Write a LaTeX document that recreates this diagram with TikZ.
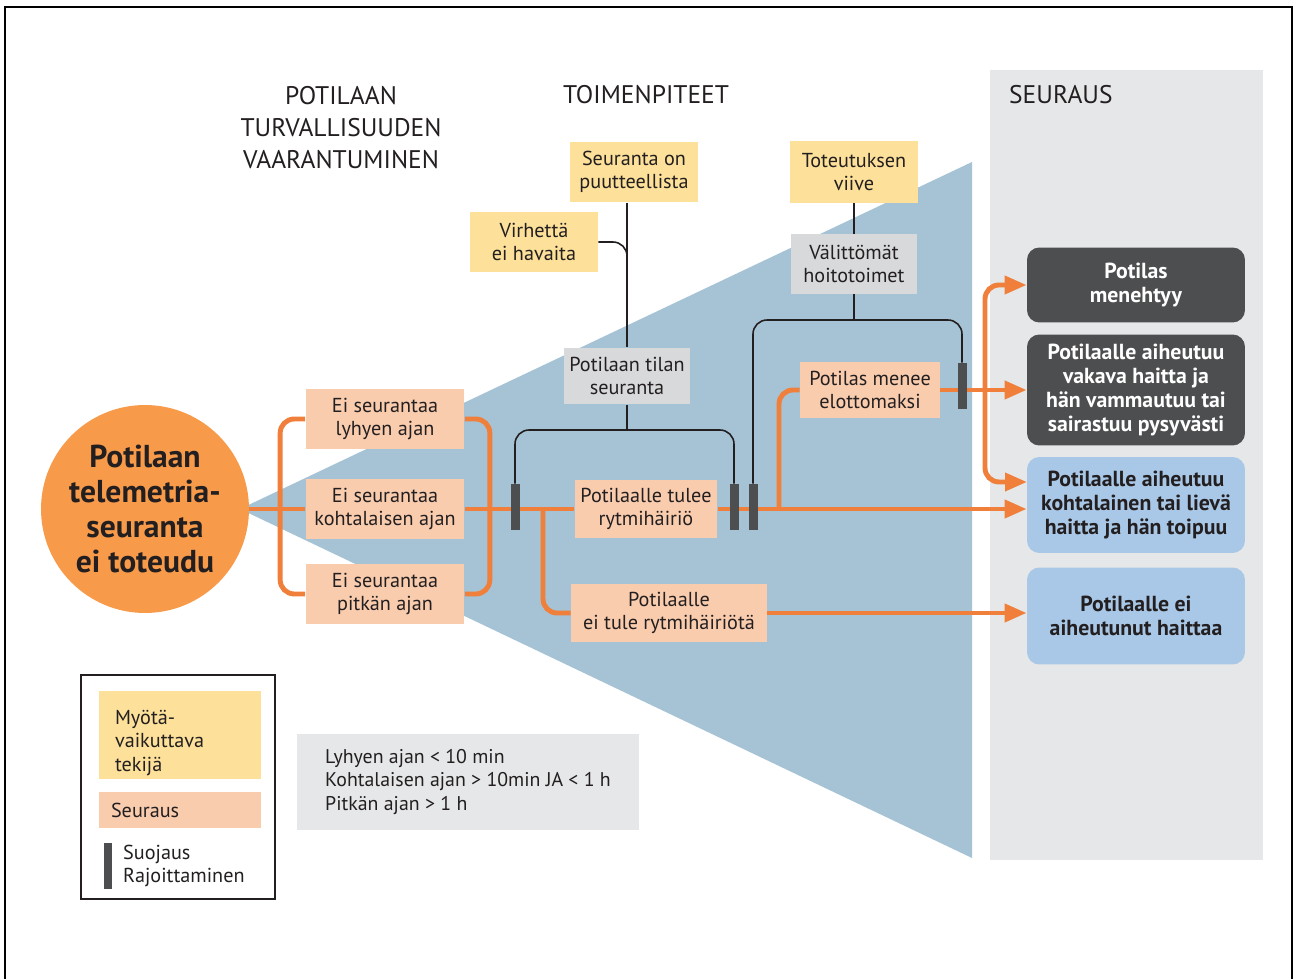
\documentclass[tikz,border=0pt]{standalone}
\usepackage{fontspec}
\setmainfont{PT Sans}
\usetikzlibrary{arrows.meta, calc}
\definecolor{ink}{HTML}{231F20}
\definecolor{funnel}{HTML}{A6C3D5}
\definecolor{panel}{HTML}{E6E7E8}
\definecolor{flowc}{HTML}{EF7F3A}
\definecolor{rootc}{HTML}{F79A4A}
\definecolor{peach}{HTML}{F9CCAE}
\definecolor{factorc}{HTML}{FDE19A}
\definecolor{actionc}{HTML}{D8D9DB}
\definecolor{darkc}{HTML}{4D4E50}
\definecolor{lightb}{HTML}{A9C8E7}
\tikzset{
    % Root event circle
    root/.style={
        circle,
        minimum size=4.16cm,
        inner sep=0pt,
        align=center,
        fill=rootc,
        text=ink,
        font=\fontsize{18}{19.8}\selectfont\bfseries
    },
    % Consequence box (peach)
    event/.style={
        rectangle,
        minimum width=3.18cm,
        minimum height=1.22cm,
        inner sep=0pt,
        align=center,
        fill=peach,
        text=ink,
        font=\fontsize{11.5}{13.4}\selectfont
    },
    % Contributing factor (yellow)
    factor/.style={
        event,
        fill=factorc,
        minimum width=2.56cm
    },
    % Action box (grey)
    action/.style={
        event,
        fill=actionc,
        minimum width=2.54cm
    },
    % Outcome box
    outcome/.style={
        rectangle,
        rounded corners=7pt,
        minimum width=4.36cm,
        inner sep=0pt,
        align=center,
        fill=#1,
        font=\fontsize{12.4}{13.6}\selectfont\bfseries
    },
    % Barrier bar
    barrier/.style={
        rectangle,
        fill=darkc,
        minimum width=0.18cm,
        minimum height=0.92cm,
        inner sep=0pt
    },
    % Arrow styles
    flow/.style={
        line width=2.8pt,
        color=flowc
    },
    flow arrow/.style={
        flow,
        -{Triangle[length=12.5pt, width=10pt]}
    },
    link/.style={
        line width=0.9pt,
        color=ink
    },
    % Section title style
    section title/.style={
        align=center,
        text=ink,
        font=\fontsize{14.5}{18.2}\selectfont
    }
}
\begin{document}
\begin{tikzpicture}[x=0.02cm, y=-0.02cm]
        \useasboundingbox (0,0) rectangle (1296,979);

        % Frame
        \draw[line width=0.6pt] (5,979) -- (5,7) -- (1292,7) -- (1292,979);

        % Funnel and result panel
        \fill[funnel] (240,509) -- (972,162) -- (972,858) -- cycle;
        \fill[panel] (990,70) rectangle (1263,860);

        % Section titles
        \node[section title] (hazard) at (341,128) {POTILAAN\\TURVALLISUUDEN\\VAARANTUMINEN};
        \node[section title] (actions) at (646,95) {TOIMENPITEET};
        \node[section title, anchor=west] (result) at (1003,95) {SEURAUS};

        % Root event
        \node[root] (root) at (145,509) {Potilaan\\telemetria-\\seuranta\\ei toteudu};

        % Monitoring gaps
        \node[event] (short) at (385,419) {Ei seurantaa\\lyhyen ajan};
        \node[event] (mid) at (385,509) {Ei seurantaa\\kohtalaisen ajan};
        \node[event] (long) at (385,594) {Ei seurantaa\\pitkän ajan};

        % Factors and actions
        \node[factor] (lack) at (634,172) {Seuranta on\\puutteellista};
        \node[factor] (miss) at (534,242) {Virhettä\\ei havaita};
        \node[action, minimum height=1.14cm] (watch) at (627,376) {Potilaan tilan\\seuranta};
        \node[factor, minimum width=2.58cm, minimum height=1.24cm] (delay) at (854,172) {Toteutuksen\\viive};
        \node[action, minimum width=2.52cm, minimum height=1.2cm] (care) at (854,264) {Välittömät\\hoitotoimet};

        % Events
        \node[event, minimum width=2.86cm, minimum height=1.16cm] (arr) at (646,509) {Potilaalle tulee\\rytmihäiriö};
        \node[event, minimum width=3.92cm, minimum height=1.16cm] (noarr) at (669,613) {Potilaalle\\ei tule rytmihäiriötä};
        \node[event, minimum width=2.8cm, minimum height=1.14cm] (arrest) at (870,390) {Potilas menee\\elottomaksi};

        % Outcomes
        \node[outcome=darkc, text=white, minimum height=1.5cm] (death) at (1136,285) {Potilas\\menehtyy};
        \node[outcome=darkc, text=white, minimum height=2.22cm] (severe) at (1136,390) {Potilaalle aiheutuu\\vakava haitta ja\\hän vammautuu tai\\sairastuu pysyvästi};
        \node[outcome=lightb, text=ink, minimum height=1.92cm] (mild) at (1136,505) {Potilaalle aiheutuu\\kohtalainen tai lievä\\haitta ja hän toipuu};
        \node[outcome=lightb, text=ink, minimum height=1.94cm] (none) at (1136,616) {Potilaalle ei\\aiheutunut haittaa};

        % Orange flow
        \coordinate (split) at (543,509);
        \coordinate (up) at (779,509);
        \coordinate (fork) at (985,390);
        \coordinate (mildin) at (1027,482);
        \draw[flow] (root.east |- mid.west) -- (mid.west);
        \draw[flow, rounded corners=8pt] (short.west) -- ++(-25,0) |- (long.west);
        \draw[flow, rounded corners=8pt] (short.east) -- ++(25,0) |- (long.east);
        \draw[flow] (mid.east) -- (arr.west);
        \draw[flow arrow] (arr.east) -- (mild.west |- arr.east);
        \draw[flow, rounded corners=8pt] (split) |- (noarr.west);
        \draw[flow arrow] (noarr.east) -- (none.west |- noarr.east);
        \draw[flow, rounded corners=8pt] (up) |- (arrest.west);
        \draw[flow arrow] (arrest.east) -- (severe.west |- arrest.east);
        \draw[flow arrow, rounded corners=8pt] (fork) |- (death.west);
        \draw[flow arrow, rounded corners=8pt] (fork) |- (mildin);

        % Barriers
        \node[barrier] (b1) at (515,507) {};
        \node[barrier] (b2) at (734,507) {};
        \node[barrier] (b3) at (753,507) {};
        \node[barrier] (b4) at (962,386) {};

        % Black links
        \coordinate (join) at (627,268);
        \coordinate (arch1) at (627,430);
        \coordinate (arch2) at (854,320);
        \draw[link] (lack.south -| watch.north) -- (watch.north);
        \draw[link, rounded corners=8pt] (miss.east) -| (join);
        \draw[link] (watch.south) -- (arch1);
        \draw[link, rounded corners=8pt] (b1.north) |- (arch1) -| (b2.north);
        \draw[link] (delay.south) -- (care.north);
        \draw[link] (care.south) -- (arch2);
        \draw[link, rounded corners=8pt] (b3.north) |- (arch2) -| (b4.north);

        % Legend
        \node[draw=ink, line width=0.8pt, minimum width=3.88cm, minimum height=4.48cm] (legend) at (178,787) {};
        \node[event, fill=factorc, minimum width=3.24cm, minimum height=1.76cm, text width=2.6cm, text height=17pt, inner xsep=0.32cm, align=left] (keyf) at (180,735) {Myötä-\\vaikuttava\\tekijä};
        \node[event, minimum width=3.24cm, minimum height=0.74cm, text width=2.76cm, inner xsep=0.24cm, align=left] (keye) at (180,810) {Seuraus};
        \node[barrier] (keyb) at (108,866) {};
        \node[anchor=west, align=left, text=ink, font=\fontsize{11.5}{13.4}\selectfont] (keyt) at (117,866) {Suojaus\\Rajoittaminen};

        % Time note
        \node[rectangle, fill=panel, minimum width=6.86cm, minimum height=1.94cm, inner sep=0pt, align=left, text=ink, font=\fontsize{11.3}{13.4}\selectfont] (note) at (468,782) {Lyhyen ajan < 10 min\\Kohtalaisen ajan > 10min JA < 1 h\\Pitkän ajan > 1 h};

\end{tikzpicture}
\end{document}
